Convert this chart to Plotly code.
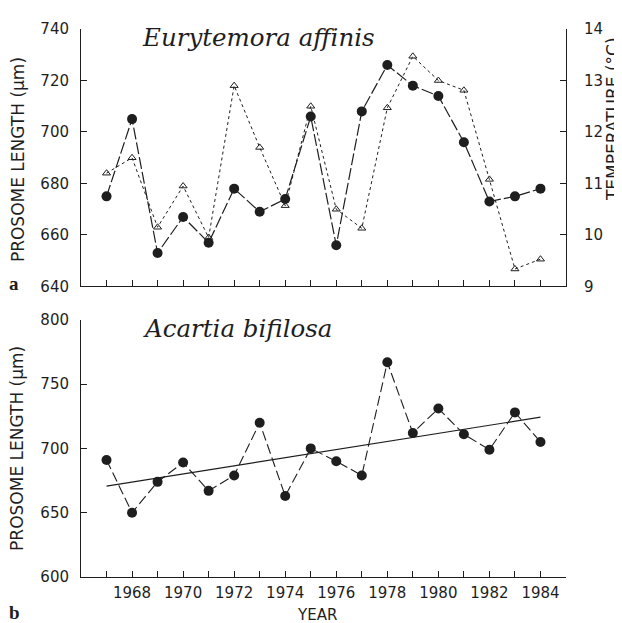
import numpy as np
import plotly.graph_objects as go

# ---------------- data ----------------
years = list(range(1967, 1985))
eury_length = [675, 705, 653, 667, 657, 678, 669, 674, 706, 656, 708, 726, 718, 714, 696, 673, 675, 678]
eury_temp = [11.2, 11.5, 10.15, 10.95, 9.95, 12.9, 11.7, 10.57, 12.5, 10.5, 10.13, 12.47, 13.47, 13.0, 12.81, 11.08, 9.34, 9.53]
acartia_length = [691, 650, 674, 689, 667, 679, 720, 663, 700, 690, 679, 767, 712, 731, 711, 699, 728, 705]
year_labels = ["1968", "1970", "1972", "1974", "1976", "1978", "1980", "1982", "1984"]

# ---------------- geometry ----------------
OFF = 8                      # default page body margin
W, H = 622 - OFF, 623 - OFF
L, R, T, B = 73, 56, 15, 46
PW, PH = W - L - R, H - T - B


def px_x(sx):
    return (sx - OFF - L) / PW


def px_y(sy):
    return (H - (sy - OFF) - B) / PH


top_dom = [px_y(283.3), 1.0]
bot_dom = [0.0, px_y(317)]

ink = "#1e1e1e"
tick_font = dict(family="DejaVu Sans, Liberation Sans, sans-serif", size=15, color=ink)
title_font = dict(family="DejaVu Sans, Liberation Sans, sans-serif", size=17, color=ink)

fig = go.Figure()

# top panel: temperature (base axis, right side) drawn first
fig.add_trace(go.Scatter(
    x=years, y=eury_temp, xaxis="x", yaxis="y",
    mode="lines+markers",
    line=dict(color=ink, width=1, dash="3px,3px"),
    marker=dict(symbol="triangle-up-open", size=7, color=ink, line=dict(width=1, color=ink)),
    showlegend=False, cliponaxis=False,
))
# top panel: prosome length (overlay axis, left side)
fig.add_trace(go.Scatter(
    x=years, y=eury_length, xaxis="x", yaxis="y3",
    mode="lines+markers",
    line=dict(color=ink, width=1.2, dash="12px,3px"),
    marker=dict(symbol="circle", size=10, color=ink),
    showlegend=False, cliponaxis=False,
))

# bottom panel
slope, intercept = np.polyfit(years, acartia_length, 1)
trend_x = [years[0], years[-1]]
trend_y = [slope * v + intercept for v in trend_x]
fig.add_trace(go.Scatter(
    x=trend_x, y=trend_y, xaxis="x2", yaxis="y2", mode="lines",
    line=dict(color=ink, width=1.1), showlegend=False,
))
fig.add_trace(go.Scatter(
    x=years, y=acartia_length, xaxis="x2", yaxis="y2",
    mode="lines+markers",
    line=dict(color=ink, width=1.1, dash="10px,4px"),
    marker=dict(symbol="circle", size=10, color=ink),
    showlegend=False, cliponaxis=False,
))

axis_common = dict(
    showline=True, linewidth=1, linecolor=ink,
    ticks="inside", ticklen=6, tickwidth=1, tickcolor=ink,
    showgrid=False, zeroline=False, tickfont=tick_font,
)

fig.update_layout(
    width=W, height=H,
    margin=dict(l=L, r=R, t=T, b=B, pad=0),
    paper_bgcolor="white", plot_bgcolor="white",
    font=tick_font,
    xaxis=dict(axis_common, domain=[0, 1], anchor="y", range=[1966, 1985],
               tickvals=years, showticklabels=False),
    yaxis=dict(axis_common, domain=top_dom, anchor="x", side="right",
               range=[9, 14], tickvals=[9, 10, 11, 12, 13, 14], ticklabelstandoff=14),
    yaxis3=dict(axis_common, overlaying="y", anchor="x", side="left",
                range=[640, 740], tickvals=[640, 660, 680, 700, 720, 740], ticklabelstandoff=8),
    xaxis2=dict(axis_common, domain=[0, 1], anchor="y2", range=[1966, 1985],
                tickvals=years + [1985],
                ticktext=[str(v) if str(v) in year_labels else "" for v in years + [1985]],
                ticklabelstandoff=2),
    yaxis2=dict(axis_common, domain=bot_dom, anchor="x2", range=[600, 800],
                tickvals=[600, 650, 700, 750, 800], ticklabelstandoff=8),
)

serif_it = dict(family="DejaVu Serif, Liberation Serif, serif", size=24.5, color=ink, style="italic")
serif_b = dict(family="Liberation Serif, DejaVu Serif, serif", size=19, color=ink, weight="bold")

ann = [
    dict(text="Eurytemora affinis", x=px_x(140), y=px_y(32), xanchor="left", yanchor="middle", font=serif_it),
    dict(text="Acartia bifilosa", x=px_x(141), y=px_y(326), xanchor="left", yanchor="middle", font=serif_it),
    dict(text="PROSOME LENGTH (µm)", x=px_x(17.5), y=px_y(155), textangle=-90,
         xanchor="center", yanchor="middle", font=title_font),
    dict(text="PROSOME LENGTH (µm)", x=px_x(17.5), y=px_y(447), textangle=-90,
         xanchor="center", yanchor="middle", font=title_font),
    dict(text="TEMPERATURE (°C)", x=px_x(613), y=px_y(114), textangle=-90,
         xanchor="center", yanchor="middle", font=title_font),
    dict(text="YEAR", x=px_x(317), y=px_y(615), xanchor="center", yanchor="middle", font=tick_font),
    dict(text="a", x=px_x(14), y=px_y(280), xanchor="center", yanchor="middle", font=serif_b),
    dict(text="b", x=px_x(14), y=px_y(613), xanchor="center", yanchor="middle", font=serif_b),
]
for a in ann:
    a.update(xref="paper", yref="paper", showarrow=False)
fig.update_layout(annotations=ann)

fig.write_html("out.html")
